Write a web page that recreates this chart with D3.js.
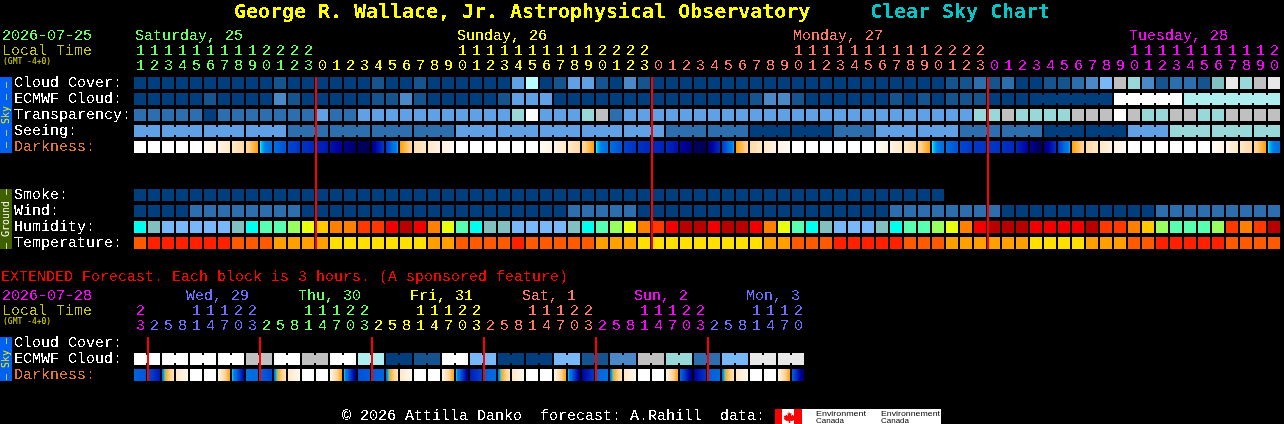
<!DOCTYPE html>
<html><head><meta charset="utf-8">
<script src="https://cdn.jsdelivr.net/npm/d3@7"></script>
<style>
html,body{margin:0;padding:0;background:#000;overflow:hidden}
svg{display:block}
text{font-family:"Liberation Mono",monospace;white-space:pre}
.domain{display:none}
</style></head><body>
<script>
// ---------- DATA ----------
const hourlyHours = [11,12,13,14,15,16,17,18,19,20,21,22,23,
 0,1,2,3,4,5,6,7,8,9,10,11,12,13,14,15,16,17,18,19,20,21,22,23,
 0,1,2,3,4,5,6,7,8,9,10,11,12,13,14,15,16,17,18,19,20,21,22,23,
 0,1,2,3,4,5,6,7,8,9,10,11,12,13,14,15,16,17,18,19,20];
const hourlyDays = ["Saturday, 25","Sunday, 26","Monday, 27","Tuesday, 28"];
const hourlyDayLabelColumn = [0,23,47,71];
const hourlyDayFirstColumn = [0,13,37,61];
const hourlyMidnights = [13,37,61];

const cloudCover = [0,0,0,0,0,0,0,0,0,0,1,0,0,0,0,0,0,1,0,0,1,0,0,0,0,0,0,4,12,0,1,4,4,1,0,3,1,
 0,0,0,0,0,0,0,0,0,0,0,0,0,0,0,0,0,0,0,0,0,1,1,2,1,2,0,0,1,1,2,3,5,9,7,3,1,2,2,1,6,10,7,9,10];
const ecmwfCloud = [0,0,0,0,0,1,0,0,0,0,3,1,0,0,0,0,0,1,1,3,1,0,0,0,0,0,1,4,4,4,
 0,0,0,0,0,0,0,0,0,0,0,0,0,0,1,3,3,1,0,0,0,0,0,0,1,0,1,0,1,1,1,0,0,0,
 0,0,0,0,0,0,11,11,11,11,11,8,8,8,8,8,8,8];
const ecmwfGroups = [[64,69],[70,74],[75,81]];
const transparency = [2,2,2,2,2,0,2,2,2,2,2,2,2,4,2,2,4,4,4,4,4,4,4,4,4,4,4,7,11,4,4,4,7,9,2,
 4,4,4,4,4,4,4,4,4,4,4,4,4,4,4,4,4,4,4,4,4,4,4,4,4,7,7,9,7,7,7,7,9,9,9,11,9,7,7,9,9,7,7,9,9,9,9];
const seeing = [4,4,4,4,4,4,4,4,4,4,4,2,2,2,2,2,2,2,2,2,2,2,2,4,4,4,4,4,4,4,4,4,4,4,4,4,4,4,
 2,2,2,2,2,2,0,0,0,0,0,0,2,2,2,4,4,4,4,4,4,2,2,2,2,2,2,0,0,0,0,0,0,4,4,4,7,7,7,7,7,7,7,7];
const seeingGroups = [[0,1],[2,4],[5,7],[8,10],[11,13],[14,16],[17,19],[20,22],[23,25],[26,28],[29,31],[32,34],[35,37],
 [38,40],[41,43],[44,46],[47,49],[50,52],[53,55],[56,58],[59,61],[62,64],[65,67],[68,70],[71,73],[74,76],[77,79],[80,81]];
const darknessStart = [0,0,0,0,0,.2,.5,1,1.7,3.02,4,4.7,5.1,5.3,5.7,6.2,6.8,6.3,5,3,1.5,1,.6,
 0,0,0,0,0,0,.2,.5,1,1.7,3.02,4,4.8,5.1,5.2,5.3,5.9,6.8,6.4,5,3,1.6,1,.5,
 0,0,0,0,0,0,.2,.5,1,1.7,3.02,4,4.7,5,5,5.1,5.3,6.2,6.5,5,3,1.6,1,.5,
 0,0,0,0,0,0,.2,.5,1,1.7,3.02];
const darknessEnd = [0,0,0,0,0,.5,1,1.6,3,4,4.5,5.1,5.3,5.6,6.1,6.8,7,5,3.2,1.8,1,.6,.2,
 0,0,0,0,0,0,.5,1,1.6,3,4,4.5,5.1,5.3,5.4,5.7,6.6,7,5.2,3.2,1.8,1,.6,.2,
 0,0,0,0,0,0,.5,1,1.6,3,4,4.5,5,5.1,5.1,5.3,6,7,5.1,3.2,1.8,1,.6,.2,
 0,0,0,0,0,0,.5,1,1.6,3,4];
const smoke = [0,0,0,0,0,0,0,0,0,0,0,0,0,0,0,0,0,0,0,0,0,0,0,0,0,0,0,0,0,
 0,0,0,0,0,0,0,0,0,0,0,0,0,0,0,0,0,0,0,0,0,0,0,0,0,0,0,0,0];
const wind = [0,0,0,0,2,2,2,2,2,2,2,2,0,0,0,0,0,0,0,0,0,0,0,0,0,0,0,0,0,0,0,2,2,2,2,2,
 0,0,0,0,0,0,0,0,0,0,0,0,0,0,0,0,0,0,2,2,2,2,2,2,2,2,0,0,0,0,0,0,0,0,0,0,0,2,2,2,2,2,2,2,2,2];
const humidity = [2,1,0,0,0,0,0,1,2,3,3,4,5,6,7,7,8,8,9,10,9,7,5,3,2,1,1,0,0,0,0,1,2,3,4,5,7,8,9,10,10,9,10,10,9,7,5,3,2,1,0,0,
 0,1,2,3,3,4,5,7,9,10,10,10,9,9,9,9,10,8,8,7,6,4,3,3,3,4,8,7,8,10];
const temperature = [1,0,0,0,0,0,0,1,1,1,2,2,2,2,3,3,3,3,3,3,3,2,2,1,1,1,1,0,1,1,1,1,1,2,2,2,3,3,3,3,3,3,3,3,3,2,2,1,1,1,
 0,0,0,0,0,1,1,1,2,2,2,2,2,2,3,3,3,3,2,2,2,1,1,0,0,0,0,0,1,1,1,1];

const extendedHours = [23,2,5,8,11,14,17,20,23,2,5,8,11,14,17,20,23,2,5,8,11,14,17,20,23,
 2,5,8,11,14,17,20,23,2,5,8,11,14,17,20,23,2,5,8,11,14,17,20];
const extendedDays = ["Wed, 29","Thu, 30","Fri, 31","Sat, 1","Sun, 2","Mon, 3"];
const extendedDayLabelColumn = [4,12,20,28,36,44];
const extendedDayFirstColumn = [0,1,9,17,25,33,41];
const extendedMidnights = [1,9,17,25,33,41];
const extendedEcmwf = [11,11,11,11,11,11,11,11,9,9,11,11,9,9,11,11,8,8,0,0,1,1,11,11,
 5,5,0,0,0,0,5,5,1,1,3,3,9,9,7,7,2,2,5,5,10,10,10,10];
const extendedGroups = [[0,1],[2,3],[4,5],[6,7],[8,9],[10,11],[12,13],[14,15],[16,17],[18,19],[20,21],[22,23],
 [24,25],[26,27],[28,29],[30,31],[32,33],[34,35],[36,37],[38,39],[40,41],[42,43],[44,45],[46,47]];
const extendedDarkStart = [4.2,4.6,3.6,1,0,0,.3,3.02,4,4.2,3.6,1,0,0,.3,3.02,4.5,4.3,3.6,1,0,0,.3,3.02,
 5.5,4.2,3.6,1,0,0,.3,3.02,6,4.2,3.6,1,0,0,.3,4,6,4.3,3.6,1,0,0,.3,4.2];
const extendedDarkEnd = [4.4,5.6,1.2,.3,0,0,3,6,4.1,4.7,1.2,.3,0,0,3,6.5,4.3,4.2,1.2,.3,0,0,3,6.5,
 4.8,4.1,1.2,.3,0,0,3,6.5,5,4,1.2,.3,0,0,3,6.5,5,4.1,1.2,.3,0,0,3,6.8];

// ---------- STYLE ----------
const W = 1284, H = 424;
const labelSize = 15;
const skyColor = d3.scaleOrdinal().domain(d3.range(13)).range(
 ["#003e7e","#15548f","#2c6eae","#4a88c8","#60a0e4","#78b8f8","#80c0c0","#98d8d8","#aeeeee","#c0c0c0","#e8e8e8","#ffffff","#b8ffff"]);
const humidColor = d3.scaleOrdinal().domain(d3.range(11)).range(
 ["#78b8f8","#80c0c0","#00ffee","#58ffb0","#98ff60","#e8ff10","#ffc800","#ff8000","#ff3800","#f00000","#b80000"]);
const tempColor = d3.scaleOrdinal().domain(d3.range(4)).range(["#ff2000","#ff5a00","#ffa000","#ffe000"]);
const darkColor = d3.scaleLinear()
 .domain([0,.5,1,2,3,3.01,3.2,3.5,4,4.5,5,6,7])
 .range(["#ffffff","#fff4e4","#ffe8c8","#ffd090","#ffa000","#00ffff","#00a8f0","#0078e8","#0070e0","#0050d8","#0038c8","#0000a0","#000050"])
 .clamp(true);
const dayColors = {green:"#66ff66",yellow:"#ffff00",salmon:"#ff7868",magenta:"#ff00ff",blue:"#6e6eff"};
const hourlyDayColors = [dayColors.green,dayColors.yellow,dayColors.salmon,dayColors.magenta];
const extendedDayColors = [dayColors.magenta,dayColors.blue,dayColors.green,dayColors.yellow,dayColors.salmon,dayColors.magenta,dayColors.blue];

const svg = d3.select("body").append("svg").attr("width",W).attr("height",H)
 .style("background","#000");
const defs = svg.append("defs");
const f = defs.append("filter").attr("id","pix").attr("color-interpolation-filters","sRGB")
 .attr("filterUnits","userSpaceOnUse").attr("x",0).attr("y",0).attr("width",W).attr("height",H);
f.append("feComponentTransfer").append("feFuncA").attr("type","discrete").attr("tableValues","0 1");

const xH = d3.scaleBand().domain(d3.range(hourlyHours.length)).range([134,134+hourlyHours.length*14-2]).paddingInner(2/14);
const xE = d3.scaleBand().domain(d3.range(extendedHours.length)).range([134,134+extendedHours.length*14-2]).paddingInner(2/14);
const rowH = 12;

const blocks = svg.append("g").attr("shape-rendering","crispEdges");
const labels = svg.append("g").attr("filter","url(#pix)");
const smallLabels = svg.append("g");

function blockRow(x, y, values, color){
  blocks.append("g").selectAll("rect").data(values).join("rect")
    .attr("x",(d,i)=>x(i)).attr("y",y).attr("width",x.bandwidth()).attr("height",rowH).attr("fill",d=>color(d));
}
function necks(x, y, values, color, groups){
  const cols = groups.flatMap(([a,b])=>d3.range(a,b));
  blocks.append("g").selectAll("rect").data(cols).join("rect")
    .attr("x",k=>x(k)+x.bandwidth()).attr("y",y+2).attr("width",x.step()-x.bandwidth()).attr("height",rowH-4)
    .attr("fill",k=>color(values[k]));
}
function darkRow(x, y, starts, ends){
  const bw = Math.round(x.bandwidth());
  const g = blocks.append("g");
  const px = d3.range(bw);
  starts.forEach((a,k)=>{
    const v = d3.interpolateNumber(a,ends[k]);
    g.append("g").selectAll("rect").data(px).join("rect")
      .attr("x",i=>Math.round(x(k))+i).attr("y",y).attr("width",1).attr("height",rowH)
      .attr("fill",i=>darkColor(v((i+.5)/bw)));
  });
}
function redLines(x, cols, y0, y1){
  blocks.append("g").selectAll("rect").data(cols).join("rect")
    .attr("x",k=>x(k)-1).attr("y",y0).attr("width",2).attr("height",y1-y0).attr("fill","#ff0000");
}
function text(s, x, y, fill){
  return labels.append("text").attr("x",x).attr("y",y).attr("fill",fill)
    .attr("font-size",labelSize).text(s);
}
function titleText(s, x, fill){
  return labels.append("text").attr("x",x).attr("y",18).attr("fill",fill).attr("font-size",19.95)
    .attr("font-weight","bold").style("font-family",'"DejaVu Sans Mono",monospace').text(s);
}
function tiny(s, x, y, fill){
  return smallLabels.append("text").attr("x",x).attr("y",y).attr("fill",fill).attr("font-size",8)
    .style("font-family",'"DejaVu Sans Mono",monospace').text(s);
}
function colorAt(firstCols, colors, k){ return colors[d3.bisectRight(firstCols,k)-1]; }
function hourAxis(x, y, hours, firstCols, colors, fmt){
  const ax = d3.axisTop(x).tickSize(0).tickPadding(0).offset(0)
    .tickFormat(k=>fmt(hours[k]));
  const g = labels.append("g").attr("transform",`translate(0,${y})`).call(ax);
  g.selectAll(".tick text").attr("font-size",labelSize).attr("dy",0).attr("x",0.5)
    .attr("fill",k=>colorAt(firstCols,colors,k))
    .style("font-family",'"Liberation Mono",monospace');
}

// Title
titleText("George R. Wallace, Jr. Astrophysical Observatory",234,"#ffff00");
titleText("Clear Sky Chart",870,"#00c8c8");

// Hourly header
text("2026-07-25",2,40,dayColors.green);
text("Local Time",2,55,"#c8c800");
tiny("(GMT -4+0)",3,64,"#e0e000");
hourlyDays.forEach((d,i)=>text(d,xH(hourlyDayLabelColumn[i])+1,40,hourlyDayColors[i]));
hourAxis(xH,55,hourlyHours,hourlyDayFirstColumn,hourlyDayColors,h=>h>=10?Math.floor(h/10):"");
hourAxis(xH,70,hourlyHours,hourlyDayFirstColumn,hourlyDayColors,h=>h%10);

// Row labels
const rowLabels = [["Cloud Cover:",87,"#fff"],["ECMWF Cloud:",103,"#fff"],["Transparency:",119,"#fff"],["Seeing:",135,"#fff"],["Darkness:",151,"#e07830"],
 ["Smoke:",199,"#fff"],["Wind:",215,"#fff"],["Humidity:",231,"#fff"],["Temperature:",247,"#fff"],
 ["Cloud Cover:",347,"#fff"],["ECMWF Cloud:",363,"#fff"],["Darkness:",379,"#e07830"]];
rowLabels.forEach(([s,y,c])=>text(s,14,y,c));

blockRow(xH,77,cloudCover,skyColor);
blockRow(xH,93,ecmwfCloud,skyColor);
necks(xH,93,ecmwfCloud,skyColor,ecmwfGroups);
blockRow(xH,109,transparency,skyColor);
blockRow(xH,125,seeing,skyColor);
necks(xH,125,seeing,skyColor,seeingGroups);
darkRow(xH,141,darknessStart,darknessEnd);
blockRow(xH,189,smoke,skyColor);
blockRow(xH,205,wind,skyColor);
blockRow(xH,221,humidity,humidColor);
blockRow(xH,237,temperature,tempColor);
redLines(xH,hourlyMidnights,77,249);

// Side strips
function strip(y0,y1,fill,s,tc){
  blocks.append("rect").attr("x",0).attr("y",y0).attr("width",12).attr("height",y1-y0).attr("fill",fill);
  const cy=(y0+y1)/2;
  smallLabels.append("text").attr("fill",tc).attr("font-size",10).attr("text-anchor","middle")
    .attr("transform",`translate(9,${cy}) rotate(-90)`).style("font-family",'"DejaVu Sans Mono",monospace').text(s);
}
strip(77,153,"#0060f0","\u2013 \u2013 Sky \u2013 \u2013","#f0f000");
strip(189,249,"#406000","\u2013 Ground \u2013","#ffffff");
strip(337,381,"#0060f0","\u2013 Sky \u2013","#f0f000");

// Extended
text("EXTENDED Forecast. Each block is 3 hours. (A sponsored feature)",1,281,"#ff0000");
text("2026-07-28",2,300,dayColors.magenta);
text("Local Time",2,315,"#c8c800");
tiny("(GMT -4+0)",3,324,"#e0e000");
extendedDays.forEach((d,i)=>text(d,xE(extendedDayLabelColumn[i])-4,300,extendedDayColors[i+1]));
hourAxis(xE,315,extendedHours,extendedDayFirstColumn,extendedDayColors,h=>h>=10?Math.floor(h/10):"");
hourAxis(xE,330,extendedHours,extendedDayFirstColumn,extendedDayColors,h=>h%10);
blockRow(xE,353,extendedEcmwf,skyColor);
necks(xE,353,extendedEcmwf,skyColor,extendedGroups);
darkRow(xE,369,extendedDarkStart,extendedDarkEnd);
redLines(xE,extendedMidnights,337,381);

// Footer
text("\u00a9 2026 Attilla Danko  forecast: A.Rahill  data:",342,420,"#ffffff");
const logo = svg.append("g");
logo.append("rect").attr("x",775).attr("y",409).attr("width",166).attr("height",15).attr("fill","#fff").attr("shape-rendering","crispEdges");
logo.append("rect").attr("x",775).attr("y",409).attr("width",7).attr("height",15).attr("fill","#ff0000").attr("shape-rendering","crispEdges");
logo.append("rect").attr("x",794).attr("y",409).attr("width",8).attr("height",15).attr("fill","#ff0000").attr("shape-rendering","crispEdges");
logo.append("path").attr("fill","#ff0000").attr("d","M788.5 411l1.5 2.5 1.5-.5-.5 3 2-1.5.5 1.5 2-.3-1 2.3 1 .8-3 2.2-2.2-.3v2.3h-1.6v-2.3l-2.2.3-3-2.2 1-.8-1-2.3 2 .3.5-1.5 2 1.5-.5-3 1.5.5z");
const logoFont = {"font-family":"Liberation Sans, sans-serif","font-size":8,"fill":"#000"};
[["Environment",816,416,50],["Canada",816,423,28],["Environnement",881,416,59],["Canada",881,423,28]].forEach(([s,x,y,w])=>{
  const t = logo.append("text").attr("x",x).attr("y",y).attr("textLength",w).attr("lengthAdjust","spacingAndGlyphs").text(s);
  Object.entries(logoFont).forEach(([k,v])=>t.style(k,v));
});
</script>
</body></html>
